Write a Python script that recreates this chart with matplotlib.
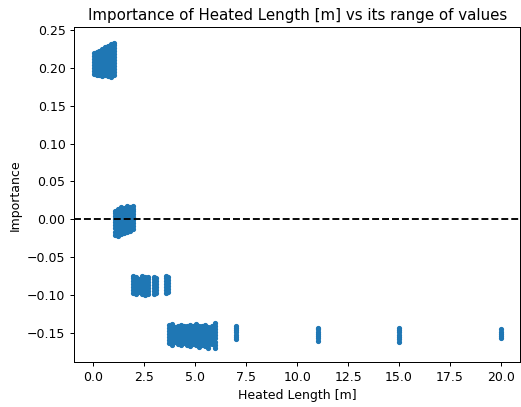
import matplotlib.pyplot as plt

# heated length columns (x) and the importance values stacked in each column
len_a = [0.02, 0.16, 0.30, 0.44, 0.58, 0.72, 0.86, 1.00]
imp_a = [
    [0.192, 0.196, 0.200, 0.204, 0.208, 0.212, 0.216, 0.219],
    [0.190, 0.194, 0.198, 0.202, 0.206, 0.210, 0.214, 0.218, 0.221],
    [0.191, 0.195, 0.199, 0.203, 0.207, 0.211, 0.215, 0.219, 0.222],
    [0.189, 0.193, 0.197, 0.201, 0.205, 0.209, 0.213, 0.217, 0.221, 0.224],
    [0.190, 0.194, 0.198, 0.202, 0.206, 0.210, 0.214, 0.218, 0.222, 0.227],
    [0.189, 0.193, 0.197, 0.201, 0.205, 0.209, 0.213, 0.217, 0.221, 0.225, 0.229],
    [0.188, 0.192, 0.196, 0.200, 0.204, 0.208, 0.212, 0.216, 0.220, 0.224, 0.228, 0.231],
    [0.190, 0.194, 0.198, 0.202, 0.206, 0.210, 0.214, 0.218, 0.222, 0.226, 0.230, 0.233],
]

len_b = [1.05, 1.20, 1.35, 1.50, 1.65, 1.80, 1.95]
imp_b = [
    [-0.020, -0.016, -0.012, -0.008, -0.004, 0.000, 0.004, 0.008, 0.011],
    [-0.022, -0.018, -0.014, -0.010, -0.006, -0.002, 0.002, 0.006, 0.010, 0.014],
    [-0.019, -0.015, -0.011, -0.007, -0.003, 0.001, 0.005, 0.009, 0.013, 0.016],
    [-0.018, -0.014, -0.010, -0.006, -0.002, 0.002, 0.006, 0.010, 0.015],
    [-0.017, -0.013, -0.009, -0.005, -0.001, 0.003, 0.007, 0.011, 0.014, 0.017],
    [-0.015, -0.011, -0.007, -0.003, 0.001, 0.005, 0.009, 0.013, 0.016],
    [-0.013, -0.009, -0.005, -0.001, 0.003, 0.007, 0.011, 0.014, 0.017],
]

len_c = [1.95, 2.10, 2.25, 2.40, 2.55, 2.68, 2.98, 3.10, 3.55, 3.68]
imp_c = [
    [-0.097, -0.093, -0.089, -0.085, -0.081, -0.077, -0.075],
    [-0.099, -0.095, -0.091, -0.087, -0.083, -0.079, -0.076],
    [-0.096, -0.092, -0.088, -0.084, -0.080, -0.078],
    [-0.098, -0.094, -0.090, -0.086, -0.082, -0.078, -0.074],
    [-0.100, -0.096, -0.092, -0.088, -0.084, -0.080, -0.076],
    [-0.099, -0.095, -0.091, -0.087, -0.083, -0.079, -0.076],
    [-0.099, -0.095, -0.091, -0.087, -0.083, -0.079, -0.076],
    [-0.097, -0.093, -0.089, -0.085, -0.081, -0.077],
    [-0.097, -0.093, -0.089, -0.085, -0.081, -0.077, -0.074],
    [-0.096, -0.092, -0.088, -0.084, -0.080, -0.076],
]

len_d = [3.70, 3.85, 4.00, 4.15, 4.30, 4.45, 4.60, 4.75,
         4.90, 5.05, 5.20, 5.35, 5.50, 5.65, 5.80, 5.97]
imp_d = [
    [-0.163, -0.159, -0.155, -0.151, -0.147, -0.143, -0.139],
    [-0.165, -0.161, -0.157, -0.153, -0.149, -0.145, -0.141, -0.138],
    [-0.162, -0.158, -0.154, -0.150, -0.146, -0.142],
    [-0.164, -0.160, -0.156, -0.152, -0.148, -0.144, -0.140],
    [-0.166, -0.162, -0.158, -0.154, -0.150, -0.146, -0.142, -0.139],
    [-0.163, -0.159, -0.155, -0.151, -0.147, -0.143, -0.140],
    [-0.165, -0.161, -0.157, -0.153, -0.149, -0.145, -0.141],
    [-0.167, -0.163, -0.159, -0.155, -0.151, -0.147, -0.143, -0.139],
    [-0.164, -0.160, -0.156, -0.152, -0.148, -0.144, -0.140],
    [-0.166, -0.162, -0.158, -0.154, -0.150, -0.146, -0.142, -0.138],
    [-0.168, -0.164, -0.160, -0.156, -0.152, -0.148, -0.144, -0.140],
    [-0.165, -0.161, -0.157, -0.153, -0.149, -0.145, -0.141],
    [-0.167, -0.163, -0.159, -0.155, -0.151, -0.147, -0.143, -0.139],
    [-0.170, -0.166, -0.162, -0.158, -0.154, -0.150, -0.146, -0.142],
    [-0.164, -0.160, -0.156, -0.152, -0.148, -0.144, -0.141],
    [-0.169, -0.165, -0.161, -0.157, -0.153, -0.149, -0.145, -0.141, -0.137],
]

len_e = [7.0, 11.0, 15.0, 20.0]
imp_e = [
    [-0.158, -0.155, -0.152, -0.149, -0.146, -0.143, -0.141],
    [-0.160, -0.157, -0.154, -0.151, -0.148, -0.145, -0.143],
    [-0.161, -0.158, -0.155, -0.152, -0.149, -0.146, -0.143],
    [-0.157, -0.154, -0.151, -0.148, -0.145],
]

xs, ys = [], []
for cols, vals in [(len_a, imp_a), (len_b, imp_b), (len_c, imp_c),
                   (len_d, imp_d), (len_e, imp_e)]:
    for x, col in zip(cols, vals):
        xs += [x] * len(col)
        ys += col

fig = plt.figure(figsize=(521 / 90, 407 / 90), dpi=90)
ax = fig.add_axes([0.1426, 0.1106, 0.8555, 0.8219])
ax.scatter(xs, ys, s=10, color="#1f77b4")
ax.axhline(0, color="black", linestyle="--")
ax.set_xlim(-0.93, 20.93)
ax.set_ylim(-0.188, 0.253)
ax.set_title("Importance of Heated Length [m] vs its range of values")
ax.set_xlabel("Heated Length [m]")
ax.set_ylabel("Importance")
fig.savefig("out.png", dpi=90)
